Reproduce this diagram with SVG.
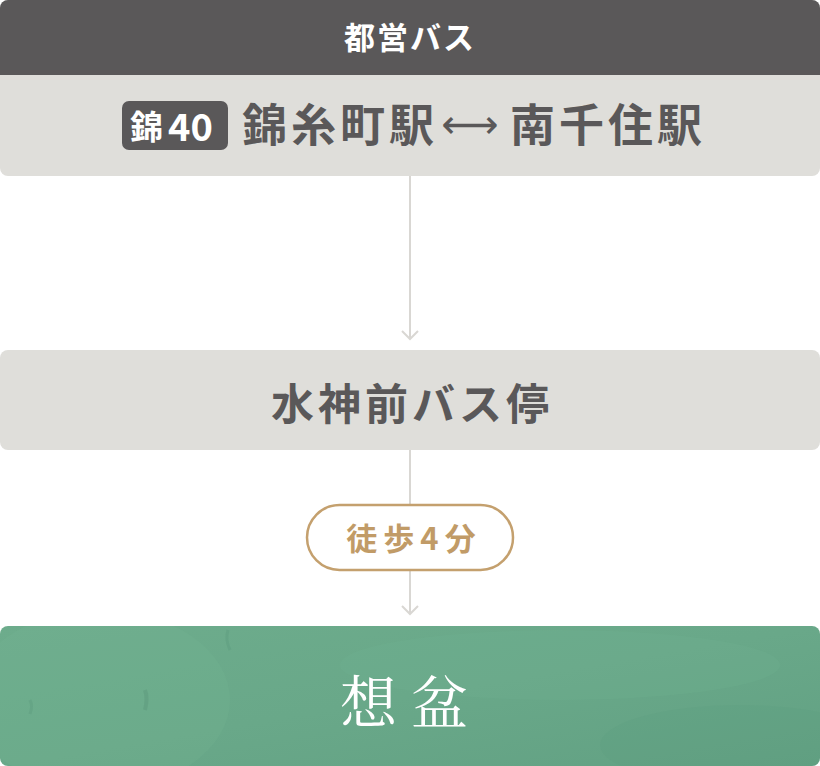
<svg xmlns="http://www.w3.org/2000/svg" width="820" height="766" viewBox="0 0 820 766">
<style>
.jp{font-family:"Noto Sans CJK JP","Noto Sans",sans-serif;font-weight:700}
.c{text-anchor:middle}
.conn{stroke:#d9d7d3;stroke-width:2;fill:none}
</style>
<defs>
<clipPath id="topclip"><rect x="0" y="0" width="820" height="176" rx="8"/></clipPath>
<linearGradient id="green" x1="0" y1="0" x2="1" y2="1">
<stop offset="0" stop-color="#6dac8c"/>
<stop offset="0.5" stop-color="#69a889"/>
<stop offset="1" stop-color="#62a183"/>
</linearGradient>
<clipPath id="gclip"><rect x="0" y="626" width="820" height="140" rx="8"/></clipPath>
</defs>
<rect width="820" height="766" fill="#ffffff"/>
<g id="connectors">
<line class="conn" x1="410" y1="176" x2="410" y2="339"/>
<polyline class="conn" points="402,331 410,339 418,331"/>
<line class="conn" x1="410" y1="450" x2="410" y2="614"/>
<polyline class="conn" points="402,606 410,614 418,606"/>
</g>
<g id="node-top">
<g clip-path="url(#topclip)">
<rect x="0" y="0" width="820" height="176" fill="#dfdeda"/>
<rect x="0" y="0" width="820" height="75" fill="#5a5859"/>
</g>
<text class="jp c" x="410" y="49" font-size="31" fill="#ffffff" letter-spacing="2">都営バス</text>
<rect x="122" y="101" width="106" height="49" rx="7" fill="#5a5859"/>
<text class="jp" x="130" y="139" font-size="33" fill="#ffffff">錦</text>
<text class="jp" x="168" y="141" font-size="38" fill="#ffffff">40</text>
<text class="jp" x="242" y="142" font-size="45" fill="#5a5859" letter-spacing="4">錦糸町駅</text>
<text class="jp" x="510" y="142" font-size="45" fill="#5a5859" letter-spacing="4">南千住駅</text>
<text x="470" y="138" font-family="'DejaVu Sans',sans-serif" font-size="40" fill="#5a5859" text-anchor="middle">⟷</text>
</g>
<g id="node-mid">
<rect x="0" y="350" width="820" height="100" rx="8" fill="#dfdeda"/>
<text class="jp c" x="412" y="420" font-size="43" fill="#5a5859" letter-spacing="4">水神前バス停</text>
</g>
<g id="label-walk">
<rect x="307" y="505" width="206" height="65" rx="32.5" fill="#ffffff" stroke="#c4a06e" stroke-width="2.5"/>
<text class="jp c" x="414" y="550" font-size="31" fill="#c19b67" letter-spacing="6">徒歩4分</text>
</g>
<g id="node-dest">
<g clip-path="url(#gclip)">
<rect x="0" y="626" width="820" height="140" fill="url(#green)"/>
<ellipse cx="100" cy="700" rx="130" ry="90" fill="#79b797" opacity="0.2"/>
<ellipse cx="560" cy="665" rx="220" ry="35" fill="#77b595" opacity="0.18"/>
<ellipse cx="740" cy="745" rx="140" ry="40" fill="#5b9a7c" opacity="0.2"/>
<path d="M145,690 q3,8 0,20" stroke="#5a977a" stroke-width="4" fill="none" opacity="0.45"/>
<path d="M228,630 q-3,10 2,20" stroke="#5a977a" stroke-width="3" fill="none" opacity="0.35"/>
<path d="M30,700 q3,6 0,14" stroke="#5a977a" stroke-width="3" fill="none" opacity="0.35"/>
</g>
<text x="411" y="723" font-family="'Noto Serif CJK JP','Noto Sans CJK JP',serif" font-size="57" fill="#ffffff" text-anchor="middle" letter-spacing="14">想盆</text>
</g>
</svg>
